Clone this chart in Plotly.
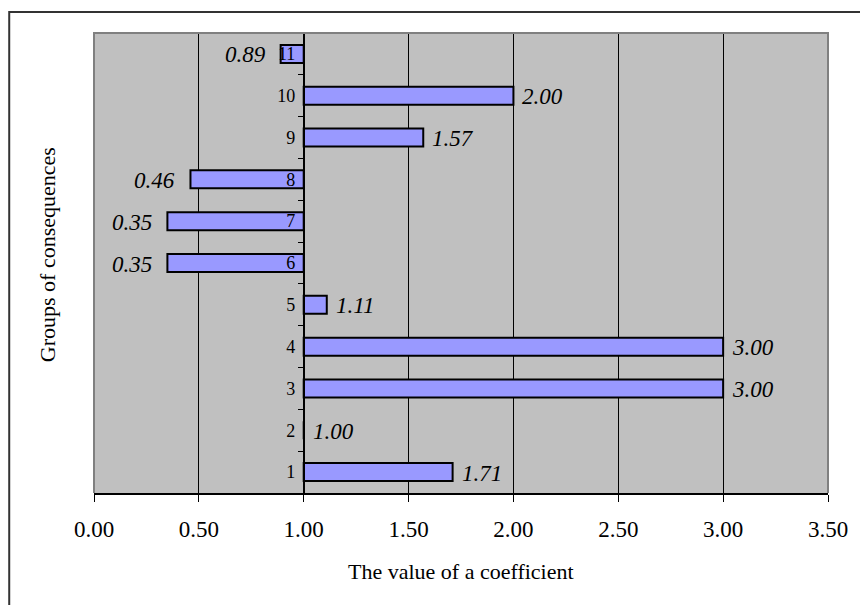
import plotly.graph_objects as go

# Groups of consequences and their coefficient values
groups = ["1", "2", "3", "4", "5", "6", "7", "8", "9", "10", "11"]
coefficients = [1.71, 1.00, 3.00, 3.00, 1.11, 0.35, 0.35, 0.46, 1.57, 2.00, 0.89]
x_ticks = [0.0, 0.5, 1.0, 1.5, 2.0, 2.5, 3.0, 3.5]

BASE = 1.0          # the value axis crosses the category axis here
X_MIN, X_MAX = 0.0, 3.5
SERIF = "Liberation Serif, Times New Roman, serif"

fig = go.Figure()
fig.add_trace(go.Bar(
    y=groups,
    x=[v - BASE for v in coefficients],
    base=BASE,
    orientation="h",
    width=0.43,
    marker=dict(color="#9999FF", line=dict(color="black", width=2)),
    hoverinfo="skip",
    showlegend=False,
))

# value labels at the end of each bar, italic
annotations = []
for i, v in enumerate(coefficients):
    right = v >= BASE
    annotations.append(dict(
        x=v, y=i, xref="x", yref="y",
        text=f"<i>{v:.2f}</i>",
        showarrow=False,
        xanchor="left" if right else "right",
        xshift=7 if right else -13,
        yshift=-1,
        font=dict(family=SERIF, size=23, color="black"),
    ))

# axis titles
annotations.append(dict(
    x=0.5, y=-0.17, xref="paper", yref="paper",
    text="The value of a coefficient", showarrow=False,
    xanchor="center", yanchor="middle",
    font=dict(family=SERIF, size=22, color="black"),
))
annotations.append(dict(
    x=-0.064, y=0.517, xref="paper", yref="paper",
    text="Groups of consequences", showarrow=False, textangle=-90,
    xanchor="center", yanchor="middle",
    font=dict(family=SERIF, size=22, color="black"),
))

axis_pos = (BASE - X_MIN) / (X_MAX - X_MIN)

fig.update_layout(
    width=860, height=605,
    margin=dict(l=94, r=30, t=33, b=112),
    paper_bgcolor="white",
    plot_bgcolor="#C0C0C0",
    xaxis=dict(
        range=[X_MIN, X_MAX],
        tickvals=x_ticks,
        ticktext=[f"{t:.2f}" for t in x_ticks],
        showgrid=True, gridcolor="black", gridwidth=1,
        zeroline=False,
        showline=True, linecolor="black", linewidth=2,
        ticks="outside", ticklen=7, tickcolor="black", tickwidth=1,
        tickfont=dict(family=SERIF, size=23, color="black"),
        ticklabelstandoff=7,
        fixedrange=True,
    ),
    yaxis=dict(
        type="category",
        categoryorder="array", categoryarray=groups,
        range=[-0.5, len(groups) - 0.5],
        anchor="free", position=axis_pos,
        showgrid=False, zeroline=False,
        showline=True, linecolor="black", linewidth=1.5,
        ticks="outside", tickson="boundaries", ticklen=5,
        tickcolor="black", tickwidth=1,
        tickfont=dict(family=SERIF, size=18, color="black"),
        ticklabelstandoff=4,
        fixedrange=True,
    ),
    annotations=annotations,
    shapes=[
        # plot area frame (left, top, right)
        dict(type="path", xref="paper", yref="paper",
             path="M 0,0 L 0,1 L 1,1 L 1,0",
             line=dict(color="#808080", width=2), layer="above"),
        # chart frame
        dict(type="path", xref="paper", yref="paper",
             path="M -0.1155,-0.3 L -0.1155,1.0457 L 1.1,1.0457",
             line=dict(color="#333333", width=2), layer="above"),
    ],
)

fig.write_html("out.html")
